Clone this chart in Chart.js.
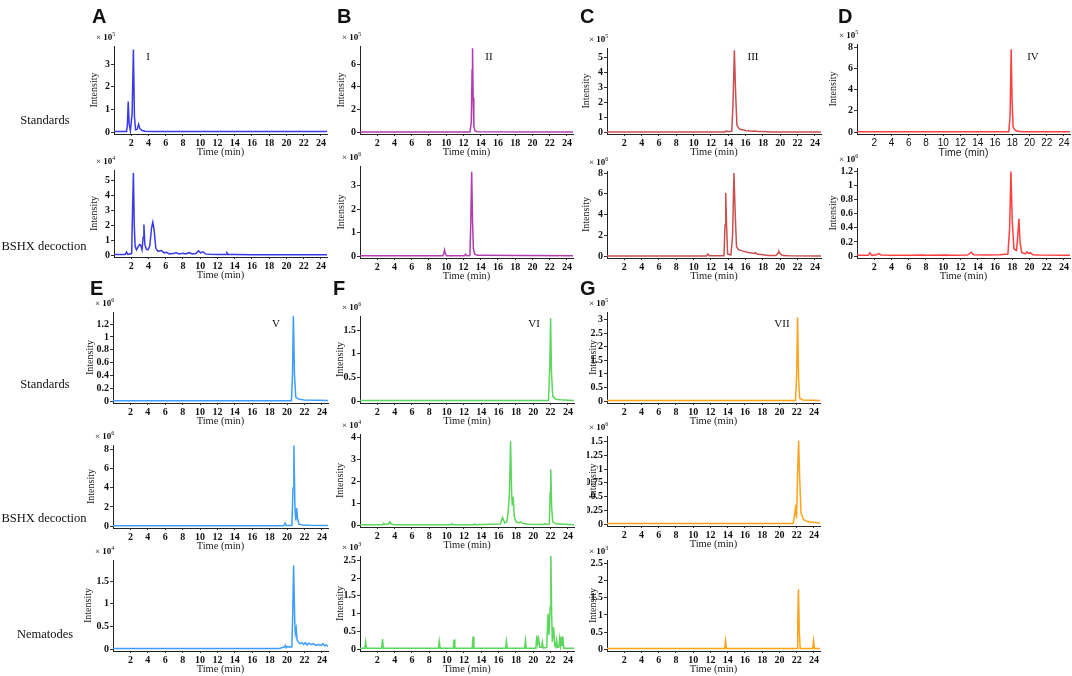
<!DOCTYPE html>
<html>
<head>
<meta charset="utf-8">
<script src="https://cdn.jsdelivr.net/npm/chart.js@4.4.1/dist/chart.umd.min.js"></script>
<style>
  body { margin: 0; background: #fff; }
  #fig { position: relative; width: 1072px; height: 676px; overflow: hidden; font-family: 'Liberation Serif', 'Times New Roman', serif; color: #111; }
  .box { position: absolute; }
  .lbl { position: absolute; white-space: nowrap; line-height: 1; }
  .letter { font: bold 20px 'Liberation Sans', Arial, sans-serif; }
  .row { font-size: 12.5px; transform: translate(-50%, -50%); }
  .num { font-size: 11px; transform: translate(-50%, -50%); }
  .exp { font-size: 9px; transform: translateY(-50%); }
  .exp sup { font-size: 6px; vertical-align: 4px; }
</style>
</head>
<body>
<div id="fig"></div>
<script>
// time axis ticks (min)
const timeTicks = [2, 4, 6, 8, 10, 12, 14, 16, 18, 20, 22, 24];

// chromatogram traces: [time (min), intensity in panel units]
const stdA = [[0,0.02],[1.45,0.02],[1.55,0.3],[1.65,1.35],[1.76,0.35],[1.9,0.05],[2.1,0.8],[2.25,3.65],[2.37,0.7],[2.5,0.1],[2.68,0.12],[2.85,0.35],[3.0,0.15],[3.25,0.07],[3.6,0.04],[4.5,0.02],[24.7,0.02]];
const bshxA = [[0,0.03],[1.3,0.03],[1.45,0.2],[1.6,0.04],[2.05,0.1],[2.15,3],[2.25,5.5],[2.35,2],[2.45,0.6],[2.6,0.35],[2.8,0.55],[2.95,0.7],[3.1,0.65],[3.25,0.35],[3.38,1.2],[3.47,2.05],[3.58,0.7],[3.75,0.4],[3.95,0.35],[4.15,0.6],[4.35,1.8],[4.5,2.2],[4.65,1.7],[4.85,0.45],[5.1,0.25],[5.5,0.3],[5.8,0.15],[6.1,0.18],[6.4,0.08],[6.9,0.1],[7.2,0.17],[7.5,0.08],[8.0,0.12],[8.3,0.07],[8.7,0.16],[9.1,0.07],[9.5,0.1],[9.8,0.28],[10.05,0.15],[10.3,0.22],[10.6,0.08],[11,0.05],[12,0.04],[13.0,0.04],[13.1,0.15],[13.25,0.04],[14,0.04],[16,0.02],[24.7,0.02]];
const stdB = [[0,0.01],[12.75,0.01],[12.9,0.8],[13.0,5.5],[13.05,7.4],[13.12,3],[13.2,0.5],[13.35,0.1],[13.6,0.03],[24.7,0.01]];
const bshxB = [[0,0.01],[9.6,0.01],[9.72,0.12],[9.8,0.26],[9.9,0.1],[10.05,0.01],[12.1,0.01],[12.25,0.08],[12.4,0.01],[12.75,0.02],[12.85,1.5],[12.95,3.6],[13.05,1.5],[13.15,0.3],[13.3,0.08],[13.6,0.03],[24.7,0.01]];
const stdC = [[0,0.01],[13.6,0.01],[13.8,0.08],[13.95,0.02],[14.4,0.05],[14.55,2],[14.7,5.45],[14.85,2.5],[15.0,0.45],[15.3,0.2],[16,0.1],[16.8,0.05],[17.1,0.07],[17.4,0.04],[18,0.03],[19,0.01],[24.7,0.01]];
const bshxC = [[0,0.01],[11.5,0.01],[11.65,0.2],[11.8,0.02],[13.5,0.02],[13.62,3],[13.7,6.1],[13.8,3],[13.92,0.2],[14.3,0.1],[14.5,2],[14.65,8.0],[14.8,4],[14.95,0.9],[15.2,0.6],[15.6,0.5],[16.3,0.35],[17.0,0.25],[17.15,0.32],[17.3,0.2],[18,0.12],[18.6,0.06],[19.5,0.05],[19.75,0.3],[19.85,0.45],[20.0,0.2],[20.3,0.05],[21,0.02],[24.7,0.01]];
const stdD = [[0,0.02],[17.6,0.02],[17.75,1.5],[17.88,7.8],[17.98,3],[18.1,0.5],[18.3,0.2],[18.6,0.07],[19.2,0.03],[24.7,0.02]];
const bshxD = [[0,0.01],[1.3,0.01],[1.5,0.045],[1.7,0.01],[2.3,0.02],[2.5,0.035],[2.8,0.015],[4,0.01],[6,0.012],[7.8,0.015],[8,0.01],[10.2,0.015],[11,0.012],[12.8,0.015],[13.1,0.04],[13.25,0.055],[13.5,0.02],[15,0.015],[16.5,0.02],[17.5,0.03],[17.7,0.4],[17.85,1.2],[18.0,0.5],[18.2,0.1],[18.5,0.08],[18.65,0.3],[18.78,0.53],[18.9,0.2],[19.1,0.05],[19.5,0.03],[19.7,0.06],[19.85,0.04],[20.1,0.045],[20.4,0.02],[21,0.015],[24.7,0.01]];
const stdE = [[0,0.005],[20.5,0.005],[20.62,0.4],[20.72,1.33],[20.85,0.4],[21,0.06],[21.3,0.03],[22,0.015],[24.7,0.01]];
const bshxE = [[0,0.03],[19.6,0.03],[19.78,0.3],[19.9,0.05],[20.55,0.05],[20.68,4],[20.78,8.45],[20.9,2],[21.0,0.6],[21.1,1.9],[21.2,0.8],[21.35,0.2],[21.8,0.12],[22.5,0.08],[24.7,0.05]];
const nemaE = [[0,0.01],[19.0,0.01],[19.4,0.03],[19.7,0.05],[19.8,0.08],[19.9,0.03],[20.1,0.06],[20.3,0.04],[20.55,0.05],[20.65,0.8],[20.75,1.85],[20.88,0.6],[20.95,0.35],[21.05,0.45],[21.15,0.2],[21.3,0.15],[21.5,0.12],[21.7,0.14],[21.9,0.1],[22.1,0.14],[22.3,0.09],[22.5,0.13],[22.8,0.1],[23.0,0.12],[23.3,0.08],[23.6,0.1],[23.9,0.08],[24.1,0.12],[24.3,0.07],[24.5,0.09],[24.7,0.06]];
const stdF = [[0,0.01],[21.75,0.01],[21.9,0.7],[22.0,1.75],[22.1,0.6],[22.25,0.1],[22.6,0.04],[23.5,0.02],[24.7,0.01]];
const bshxF = [[0,0.02],[2.6,0.02],[2.75,0.08],[2.9,0.03],[3.3,0.05],[3.45,0.15],[3.6,0.05],[4,0.02],[10.5,0.02],[10.6,0.06],[10.7,0.02],[13.1,0.02],[13.2,0.05],[13.3,0.02],[16.2,0.05],[16.45,0.35],[16.7,0.1],[16.95,0.15],[17.1,0.6],[17.25,1.5],[17.38,3.85],[17.5,1.5],[17.58,0.9],[17.68,1.3],[17.8,0.4],[18.0,0.15],[18.3,0.1],[18.55,0.15],[18.8,0.07],[19.5,0.04],[21.2,0.03],[21.35,0.07],[21.5,0.03],[21.85,0.05],[21.95,1.5],[22.02,2.55],[22.12,0.8],[22.25,0.15],[22.6,0.06],[23.5,0.04],[24.2,0.03],[24.7,0.02]];
const nemaF = [[0,0.02],[0.55,0.02],[0.65,0.2],[0.75,0.02],[2.5,0.02],[2.6,0.28],[2.7,0.02],[9.05,0.02],[9.15,0.22],[9.25,0.02],[10.75,0.02],[10.85,0.27],[10.95,0.02],[12.95,0.02],[13.05,0.35],[13.15,0.02],[16.8,0.02],[16.9,0.22],[17.0,0.02],[19.0,0.02],[19.1,0.25],[19.2,0.02],[20.3,0.02],[20.4,0.38],[20.5,0.15],[20.62,0.3],[20.75,0.05],[20.95,0.05],[21.05,0.2],[21.15,0.03],[21.55,0.05],[21.7,1.0],[21.82,0.4],[21.95,1.2],[22.03,2.62],[22.12,1.0],[22.2,0.2],[22.35,0.62],[22.48,0.1],[22.6,0.05],[22.7,0.25],[22.8,0.05],[22.95,0.05],[23.05,0.3],[23.15,0.1],[23.25,0.35],[23.33,0.1],[23.42,0.35],[23.52,0.02],[24.7,0.02]];
const stdG = [[0,0.02],[21.85,0.02],[22.0,1],[22.1,3.1],[22.22,0.8],[22.35,0.1],[22.7,0.04],[24.7,0.02]];
const bshxG = [[0,0.01],[21.6,0.01],[21.78,0.2],[21.88,0.35],[21.98,0.1],[22.1,0.9],[22.22,1.52],[22.35,0.8],[22.5,0.2],[22.8,0.08],[23.3,0.04],[24.7,0.02]];
const nemaG = [[0,0.02],[13.65,0.02],[13.75,0.25],[13.85,0.02],[22.05,0.02],[22.12,0.8],[22.2,1.75],[22.3,0.5],[22.4,0.02],[23.85,0.02],[23.95,0.25],[24.05,0.02],[24.7,0.02]];

// intensity tick labels per panel
const ytA1 = [0, 1, 2, 3];
const ytA2 = [0, 1, 2, 3, 4, 5];
const ytB1 = [0, 2, 4, 6];
const ytB2 = [0, 1, 2, 3];
const ytC1 = [0, 1, 2, 3, 4, 5];
const ytC2 = [0, 2, 4, 6, 8];
const ytD1 = [0, 2, 4, 6, 8];
const ytD2 = [0, 0.2, 0.4, 0.6, 0.8, 1, 1.2];
const ytE1 = [0, 0.2, 0.4, 0.6, 0.8, 1, 1.2];
const ytE2 = [0, 2, 4, 6, 8];
const ytE3 = [0, 0.5, 1, 1.5];
const ytF1 = [0, 0.5, 1, 1.5];
const ytF2 = [0, 1, 2, 3, 4];
const ytF3 = [0, 0.5, 1, 1.5, 2, 2.5];
const ytG1 = [0, 0.5, 1, 1.5, 2, 2.5, 3];
const ytG2 = [0, 0.25, 0.5, 0.75, 1, 1.25, 1.5];
const ytG3 = [0, 0.5, 1, 1.5, 2, 2.5];

const SERIF = "'Liberation Serif', 'Times New Roman', serif";
const SANS = "'Liberation Sans', Arial, sans-serif";
const colA = '#3b3be6', colB = '#b03cb0', colC = '#c9504f', colD = '#ff4040',
      colE = '#3d9cff', colF = '#5cd65c', colG = '#ffa31a';

// box: [y-axis x, plot top, zero line y, plot right]; yw: y-axis band width (sets "Intensity" offset)
const panels = [
  { pts: stdA,  color: colA, ymax: 3.8,  yt: ytA1, exp: 5, yw: 26, box: [114, 43, 132, 327] },
  { pts: bshxA, color: colA, ymax: 5.7,  yt: ytA2, exp: 4, yw: 26, box: [114, 167, 255, 327] },
  { pts: stdB,  color: colB, ymax: 7.6,  yt: ytB1, exp: 5, yw: 25, box: [360, 43, 132, 573] },
  { pts: bshxB, color: colB, ymax: 3.85, yt: ytB2, exp: 6, yw: 25, box: [360, 163, 256, 573] },
  { pts: stdC,  color: colC, ymax: 5.6,  yt: ytC1, exp: 5, yw: 27, box: [607, 45, 132, 821] },
  { pts: bshxC, color: colC, ymax: 8.2,  yt: ytC2, exp: 6, yw: 27, box: [607, 168, 256, 821] },
  { pts: stdD,  color: colD, ymax: 8.3,  yt: ytD1, exp: 5, yw: 30, box: [857, 41, 132, 1070], sansX: true },
  { pts: bshxD, color: colD, ymax: 1.25, yt: ytD2, exp: 6, yw: 30, box: [857, 165, 256, 1070] },
  { pts: stdE,  color: colE, ymax: 1.39, yt: ytE1, exp: 6, yw: 29, box: [113, 309, 401, 328] },
  { pts: bshxE, color: colE, ymax: 8.5,  yt: ytE2, exp: 6, yw: 28, box: [113, 442, 526, 328] },
  { pts: nemaE, color: colE, ymax: 1.97, yt: ytE3, exp: 4, yw: 31, box: [113, 557, 649, 328] },
  { pts: stdF,  color: colF, ymax: 1.8,  yt: ytF1, exp: 6, yw: 26, box: [360, 313, 401, 574] },
  { pts: bshxF, color: colF, ymax: 4.18, yt: ytF2, exp: 4, yw: 26, box: [360, 431, 525, 574] },
  { pts: nemaF, color: colF, ymax: 2.62, yt: ytF3, exp: 3, yw: 26, box: [360, 553, 649, 574] },
  { pts: stdG,  color: colG, ymax: 3.29, yt: ytG1, exp: 5, yw: 20, box: [607, 309, 401, 820] },
  { pts: bshxG, color: colG, ymax: 1.6,  yt: ytG2, exp: 6, yw: 20, box: [607, 433, 524, 820] },
  { pts: nemaG, color: colG, ymax: 2.61, yt: ytG3, exp: 3, yw: 20, box: [607, 557, 649, 820] },
];

const fig = document.getElementById('fig');

function addLabel(html, cls, x, y) {
  const d = document.createElement('div');
  d.className = 'lbl ' + cls;
  d.style.left = x + 'px';
  d.style.top = y + 'px';
  d.innerHTML = html;
  fig.appendChild(d);
}

const X_H = 25, PAD_L = 14, PAD_T = 4, PAD_R = 2, PAD_B = 1;

panels.forEach(p => {
  const [ax, top, zero, right] = p.box;
  const bottom = zero + 2;
  const ymin = -p.ymax * (bottom - zero) / (zero - top);
  const yw = p.yw;

  const div = document.createElement('div');
  div.className = 'box';
  div.style.left = (ax - yw - PAD_L) + 'px';
  div.style.top = (top - PAD_T) + 'px';
  div.style.width = (right - ax + yw + PAD_L + PAD_R) + 'px';
  div.style.height = (bottom - top + X_H + PAD_T + PAD_B) + 'px';
  const cv = document.createElement('canvas');
  div.appendChild(cv);
  fig.appendChild(div);

  const xFam = p.sansX ? SANS : SERIF;
  new Chart(cv, {
    type: 'line',
    data: {
      datasets: [{
        data: p.pts.map(([t, v]) => ({ x: t, y: v })),
        borderColor: p.color, borderWidth: 1.5, pointRadius: 0, tension: 0, fill: false
      }]
    },
    options: {
      responsive: true, maintainAspectRatio: false, animation: false,
      layout: { padding: { left: PAD_L, top: PAD_T, right: PAD_R, bottom: PAD_B } },
      plugins: { legend: { display: false }, tooltip: { enabled: false } },
      scales: {
        x: {
          type: 'linear', min: 0, max: 24.7,
          afterBuildTicks: s => { s.ticks = timeTicks.map(v => ({ value: v })); },
          afterFit: s => { s.height = X_H; },
          grid: { drawOnChartArea: false, drawTicks: true, tickLength: 2, color: '#333' },
          border: { color: '#222', width: 1 },
          ticks: { padding: 1, maxRotation: 0, autoSkip: false, color: '#111',
                   font: { family: xFam, size: 10, weight: p.sansX ? 'normal' : 'bold' },
                   callback: v => String(v) },
          title: { display: true, text: 'Time (min)', color: '#222', padding: 0,
                   font: { family: xFam, size: 10.5 } }
        },
        y: {
          type: 'linear', min: ymin, max: p.ymax,
          afterBuildTicks: s => { s.ticks = p.yt.map(v => ({ value: v })); },
          afterFit: s => { s.width = yw; },
          grid: { drawOnChartArea: false, drawTicks: true, tickLength: 3, color: '#333' },
          border: { color: '#222', width: 1 },
          ticks: { padding: 1, autoSkip: false, color: '#111',
                   font: { family: SERIF, size: 10, weight: 'bold' },
                   callback: v => String(v) },
          title: { display: true, text: 'Intensity', color: '#222', padding: 0,
                   font: { family: SERIF, size: 10 } }
        }
      }
    }
  });

  addLabel('× <b>10</b><sup>' + p.exp + '</sup>', 'exp', ax - 18, top - 7);
});

// panel letters
[['A', 92, 5], ['B', 337, 5], ['C', 580, 5], ['D', 838, 5],
 ['E', 90, 277], ['F', 333, 277], ['G', 580, 277]]
  .forEach(([t, x, y]) => addLabel(t, 'letter', x, y));

// compound numerals
[['I', 148, 56], ['II', 489, 56], ['III', 753, 56], ['IV', 1033, 56],
 ['V', 276, 323], ['VI', 534, 323], ['VII', 782, 323]]
  .forEach(([t, x, y]) => addLabel(t, 'num', x, y));

// sample rows
[['Standards', 45, 120], ['BSHX decoction', 44, 246],
 ['Standards', 45, 384], ['BSHX decoction', 44, 518], ['Nematodes', 45, 634]]
  .forEach(([t, x, y]) => addLabel(t, 'row', x, y));
</script>
</body>
</html>
